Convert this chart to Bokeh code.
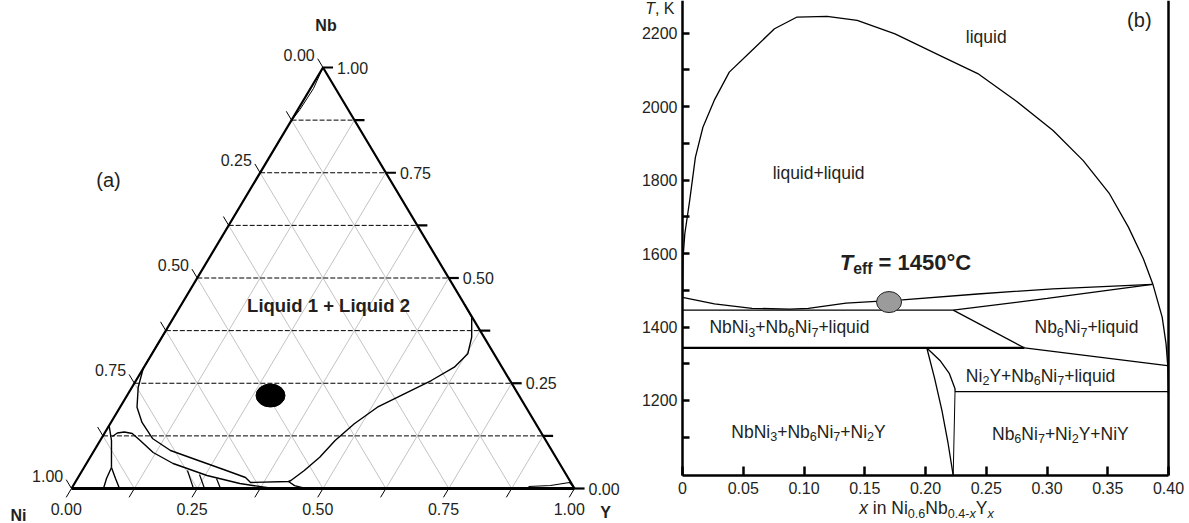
from bokeh.plotting import figure
from bokeh.layouts import row
from bokeh.models import Range1d, Label, LinearAxis, FixedTicker, PrintfTickFormatter
from bokeh.embed import file_html
from bokeh.resources import INLINE

FONT = "Liberation Sans"
INK = "#231f20"

# ---------------- Panel (a): ternary Ni-Nb-Y, points as (Y, Nb) mole fractions ----------------
grid_vals = [0.125, 0.25, 0.375, 0.5, 0.625, 0.75, 0.875]
tick_vals = [0.0, 0.125, 0.25, 0.375, 0.5, 0.625, 0.75, 0.875, 1.0]
label_vals = [0.0, 0.25, 0.5, 0.75, 1.0]
label_text = ["0.00", "0.25", "0.50", "0.75", "1.00"]

# liquid miscibility gap (left branch -> tie segment -> right branch)
gap_Y = [0.0, 0.0, 0.0123, 0.0337, 0.0618, 0.1016, 0.1517, 0.2121, 0.2797, 0.3329, 0.3488,
         0.4231, 0.4267, 0.4414, 0.4563, 0.4671, 0.4854, 0.5116, 0.5492, 0.5871, 0.617,
         0.6279, 0.6159, 0.5922, 0.5613]
gap_Nb = [0.38, 0.285, 0.2406, 0.1931, 0.1568, 0.1188, 0.0903, 0.0689, 0.0451, 0.0261, 0.0143,
          0.0166, 0.019, 0.0428, 0.0743, 0.114, 0.1537, 0.1931, 0.2249, 0.2565, 0.2881,
          0.32, 0.3594, 0.4069, 0.4387]
tail_Y = [0.4231, 0.44, 0.465]
tail_Nb = [0.0166, 0.007, 0.0]
bump_Y = [0.0194, 0.0252, 0.0379, 0.0555, 0.0796, 0.1196, 0.1723, 0.2539, 0.3287, 0.3934, 0.40]
bump_Nb = [0.1235, 0.1318, 0.1342, 0.1306, 0.114, 0.0855, 0.0594, 0.0309, 0.0119, 0.0012, 0.0]
stem_Y = [0.0, 0.0225, 0.0545]
stem_Nb = [0.1496, 0.114, 0.0499]
forkL_Y = [0.0545, 0.0577, 0.0636]
forkL_Nb = [0.0499, 0.0238, 0.0]
forkR_Y = [0.0545, 0.0756, 0.0954]
forkR_Nb = [0.0499, 0.0238, 0.0]
short_Y = [[0.2092, 0.2425], [0.2378, 0.2644], [0.2764, 0.2962]]
short_Nb = [[0.0428, 0.0], [0.0333, 0.0], [0.0238, 0.0]]
ycorner_Y = [0.9061, 0.9487, 0.9829, 1.0]
ycorner_Nb = [0.0048, 0.0071, 0.0143, 0.0]
apex_Y = [0.0, 0.006, 0.004, 0.0]
apex_Nb = [1.0, 0.95, 0.90, 0.87]
dot_Y = [0.2852]
dot_Nb = [0.2209]

# ---------------- Panel (b): isopleth Ni0.6Nb0.4-xYx ----------------
dome_x = [0.0, 0.0005, 0.0019, 0.0059, 0.0106, 0.0168, 0.0261, 0.0385, 0.0571, 0.0757, 0.0943,
          0.119, 0.1438, 0.1749, 0.212, 0.243, 0.274, 0.305, 0.3298, 0.3514, 0.367, 0.3793,
          0.387, 0.3948, 0.398, 0.3994, 0.4]
dome_T = [1481, 1590, 1654, 1744, 1862, 1944, 2017, 2094, 2153, 2212, 2244,
          2246, 2235, 2198, 2139, 2090, 2017, 1935, 1853, 1763, 1672, 1586,
          1518, 1427, 1354, 1295, 1218]
liq_x = [0.0, 0.0263, 0.0572, 0.0882, 0.1036, 0.1346, 0.1593, 0.181, 0.2429, 0.3048, 0.3868]
liq_T = [1481, 1463, 1451, 1449, 1451, 1465, 1470, 1474, 1490, 1504, 1516]
liq2_x = [0.2228, 0.3002, 0.3868]
liq2_T = [1446, 1478, 1516]
pl1_x = [0.0, 0.2228]
pl1_T = [1446, 1446]
sl1_x = [0.2228, 0.2815]
sl1_T = [1446, 1343]
pl2_x = [0.0, 0.2815]
pl2_T = [1343, 1343]
sl2_x = [0.2815, 0.3991]
sl2_T = [1343, 1295]
pl3_x = [0.2243, 0.4]
pl3_T = [1224, 1224]
e1_x = [0.2011, 0.2119, 0.2197, 0.2243, 0.2243]
e1_T = [1343, 1309, 1273, 1232, 1224]
e2_x = [0.2011, 0.2075, 0.2135, 0.2185, 0.2228]
e2_T = [1343, 1260, 1173, 1085, 996]
e3_x = [0.2243, 0.2228]
e3_T = [1224, 996]
teff_x = [0.17]
teff_T = [1468]
x_ticks = [0, 0.05, 0.1, 0.15, 0.2, 0.25, 0.3, 0.35, 0.4]
T_ticks = [1100, 1200, 1300, 1400, 1500, 1600, 1700, 1800, 1900, 2000, 2100, 2200]
T_labels = {1100: "", 1300: "", 1500: "", 1700: "", 1900: "", 2100: ""}
T_MIN, T_MAX = 995.8, 2289.0
X_MIN, X_MAX = 0.0, 0.4

W_REG = {' ': 278, '+': 584, '-': 333, '.': 278, ',': 278, '=': 584, 'C': 722, 'K': 667,
         'L': 556, 'N': 722, 'T': 611, 'Y': 667, 'a': 556, 'b': 556, 'd': 556, 'e': 556,
         'f': 278, 'i': 222, 'l': 222, 'n': 556, 'q': 556, 'u': 556, 'x': 500, 'y': 500,
         '(': 333, ')': 333, '\u00b0': 400}
W_BOLD = {' ': 278, '+': 584, '.': 278, '=': 584, 'C': 722, 'L': 611, 'T': 611, 'e': 556,
          'f': 333, 'i': 278, 'd': 611, 'q': 611, 'u': 611, '\u00b0': 400}


def tw(s, size, bold=False):
    tab = W_BOLD if bold else W_REG
    return sum(tab.get(c, 556) for c in s) * size / 1000.0


def rich(p, x, y, segs, size, align="center", bold=False, dx=0.0, dy=0.0):
    """Text with sub-scripts, built from plain Labels; dy = offset (px, up) of the text middle."""
    pieces = []
    for txt, kind in segs:
        sub = kind in ("sub", "isub")
        ital = kind in ("i", "isub")
        fs = size * 0.72 if sub else size
        core = txt.strip(" ")
        lead = tw(" " * (len(txt) - len(txt.lstrip(" "))), fs, bold)
        trail = tw(" " * (len(txt) - len(txt.rstrip(" "))), fs, bold)
        pieces.append((core, fs, sub, ital, lead, tw(core, fs, bold), trail))
    total = sum(pc[4] + pc[5] + pc[6] for pc in pieces)
    cur = {"center": -total / 2.0, "left": 0.0, "right": -total}[align]
    for core, fs, sub, ital, lead, w, trail in pieces:
        cur += lead
        style = ("bold " if bold else "") + ("italic" if ital else "")
        style = style.strip() or "normal"
        if core:
            p.add_layout(Label(x=x, y=y, x_offset=dx + cur,
                               y_offset=dy - (0.29 * size if sub else 0.0),
                               text=core, text_font=FONT, text_font_size="%.1fpx" % fs,
                               text_font_style=style, text_color=INK,
                               text_align="left", text_baseline="middle"))
        cur += w + trail


def tx(Y, Nb):
    return [a + b / 2.0 for a, b in zip(Y, Nb)]


# ===================== figure (a) =====================
SIDE_PX, HEIGHT_PX, LEFT_PX, BASE_PX = 503.0, 421.0, 71.0, 488.0
pa = figure(width=620, height=523, output_backend="svg", toolbar_location=None,
            x_axis_location=None, y_axis_location=None, title=None,
            x_range=Range1d(-LEFT_PX / SIDE_PX, (620 - LEFT_PX) / SIDE_PX),
            y_range=Range1d(-(523 - BASE_PX) / HEIGHT_PX, BASE_PX / HEIGHT_PX),
            min_border=0)
pa.outline_line_color = None
pa.xgrid.visible = False
pa.ygrid.visible = False

for c in grid_vals:
    ys, nbs = [0.0, 1 - c], [1 - c, 0.0]
    pa.line(tx(ys, nbs), nbs, line_color="#9a9a9a", line_width=0.6)
    ys, nbs = [c, c], [0.0, 1 - c]
    pa.line(tx(ys, nbs), nbs, line_color="#9a9a9a", line_width=0.6)
for c in grid_vals:
    ys, nbs = [0.0, 1 - c], [c, c]
    pa.line(tx(ys, nbs), nbs, line_color="black", line_width=1, line_dash="5 2")

pa.line(tx([0.0, 0.0, 1.0], [0.0, 1.0, 0.0]), [0.0, 1.0, 0.0], line_color="black", line_width=2.2)
pa.line(tx([0.0, 1.0], [0.0, 0.0]), [0.0, 0.0], line_color="black", line_width=3)

L = 0.021
for c in tick_vals:
    x0 = tx([1 - c], [c])[0]
    pa.line([x0, x0 + 0.02], [c, c], line_color="black", line_width=2.2)
    ys, nbs = [0.0, -L], [1 - c, 1 - c + L]
    pa.line(tx(ys, nbs), nbs, line_color="black", line_width=1)
    ys, nbs = [c, c], [0.0, -L]
    pa.line(tx(ys, nbs), nbs, line_color="black", line_width=1)

for v, t in zip(label_vals, label_text):
    pa.add_layout(Label(x=tx([-L], [1 - v + L])[0], y=1 - v + L, x_offset=-3, y_offset=4, text=t,
                        text_font=FONT, text_font_size="16px", text_color=INK,
                        text_align="right", text_baseline="middle"))
    pa.add_layout(Label(x=tx([1 - v], [v])[0], y=v, x_offset=14, y_offset=0, text=t,
                        text_font=FONT, text_font_size="16px", text_color=INK,
                        text_align="left", text_baseline="middle"))
    pa.add_layout(Label(x=tx([v], [-L])[0], y=-L, x_offset=0, y_offset=-12, text=t,
                        text_font=FONT, text_font_size="16px", text_color=INK,
                        text_align="center", text_baseline="middle"))

for Ys, Nbs, w in [(gap_Y, gap_Nb, 1.4), (tail_Y, tail_Nb, 1.4), (bump_Y, bump_Nb, 1.4),
                   (stem_Y, stem_Nb, 1.4), (forkL_Y, forkL_Nb, 1.4), (forkR_Y, forkR_Nb, 1.4),
                   (ycorner_Y, ycorner_Nb, 1.2), (apex_Y, apex_Nb, 1.0)]:
    pa.line(tx(Ys, Nbs), Nbs, line_color="black", line_width=w)
for Ys, Nbs in zip(short_Y, short_Nb):
    pa.line(tx(Ys, Nbs), Nbs, line_color="black", line_width=1.2)

pa.ellipse(x=tx(dot_Y, dot_Nb), y=dot_Nb, width=29, height=23, width_units="screen",
           height_units="screen", fill_color="black", line_color="black")

pa.add_layout(Label(x=0.5, y=1.0, y_offset=42, x_offset=3, text="Nb", text_font=FONT,
                    text_font_size="16px", text_font_style="bold", text_color=INK,
                    text_align="center", text_baseline="middle"))
pa.add_layout(Label(x=0.0, y=0.0, x_offset=-53, y_offset=-27, text="Ni", text_font=FONT,
                    text_font_size="16px", text_font_style="bold", text_color=INK,
                    text_align="center", text_baseline="middle"))
pa.add_layout(Label(x=1.0, y=0.0, x_offset=31, y_offset=-24, text="Y", text_font=FONT,
                    text_font_size="16px", text_font_style="bold", text_color=INK,
                    text_align="center", text_baseline="middle"))
pa.add_layout(Label(x=0.0736, y=0.7316, text="(a)", text_font=FONT, text_font_size="20px",
                    text_color=INK, text_align="center", text_baseline="middle"))
pa.add_layout(Label(x=0.511, y=0.4347, text="Liquid 1 + Liquid 2", text_font=FONT,
                    text_font_size="18.5px", text_font_style="bold", text_color=INK,
                    text_align="center", text_baseline="middle"))

# ===================== figure (b) =====================
FRAME_LEFT_PX, PX_PER_X, AXIS_BOTTOM_PX, PX_PER_K = 62.0, 1215.0, 475.0, 0.3673
pb = figure(width=569, height=523, output_backend="svg", toolbar_location=None, title=None,
            x_axis_location=None, y_axis_location=None,
            x_range=Range1d(X_MIN - FRAME_LEFT_PX / PX_PER_X, X_MIN + (569 - FRAME_LEFT_PX) / PX_PER_X),
            y_range=Range1d(T_MIN - (523 - AXIS_BOTTOM_PX) / PX_PER_K, T_MAX),
            min_border=0)
pb.outline_line_color = None
pb.xgrid.visible = False
pb.ygrid.visible = False

xax = LinearAxis(fixed_location=T_MIN, bounds=(X_MIN, X_MAX), ticker=FixedTicker(ticks=x_ticks),
                 formatter=PrintfTickFormatter(format="%.2f"))
xax.major_label_overrides = {0: "0"}
xax.major_tick_in = 9
xax.major_label_standoff = 7
yax = LinearAxis(fixed_location=X_MIN, bounds=(T_MIN, T_MAX), ticker=FixedTicker(ticks=T_ticks))
yax.major_label_overrides = T_labels
yax.major_tick_in = 7
yax.major_label_standoff = 5
for ax in (xax, yax):
    ax.axis_line_width = 2.5
    ax.axis_line_color = "black"
    ax.major_tick_line_width = 2.5
    ax.major_tick_line_color = "black"
    ax.minor_tick_line_color = None
    ax.major_tick_out = 0
    ax.major_label_text_font = FONT
    ax.major_label_text_font_size = "16px"
    ax.major_label_text_color = INK
rax = LinearAxis(fixed_location=X_MAX, bounds=(T_MIN, T_MAX), ticker=FixedTicker(ticks=[]),
                 minor_tick_line_color=None, axis_line_width=2.5, axis_line_color="black")
pb.add_layout(xax, "below")
pb.add_layout(yax, "left")
pb.add_layout(rax, "right")

for xs, Ts, w in [(dome_x, dome_T, 1.3), (liq_x, liq_T, 1.3), (liq2_x, liq2_T, 1.3),
                  (pl1_x, pl1_T, 1.3), (sl1_x, sl1_T, 1.3), (pl2_x, pl2_T, 2.2),
                  (sl2_x, sl2_T, 1.3), (pl3_x, pl3_T, 1.3), (e1_x, e1_T, 1.3),
                  (e2_x, e2_T, 1.3), (e3_x, e3_T, 1.0)]:
    pb.line(xs, Ts, line_color="black", line_width=w)

pb.ellipse(x=teff_x, y=teff_T, width=25, height=21, width_units="screen", height_units="screen",
           fill_color="#9b9b9b", line_color="#222222", line_width=1)

RS = 17.5
rich(pb, 0.25, 2190, [("liquid", "n")], RS)
rich(pb, 0.112, 1820, [("liquid+liquid", "n")], RS)
rich(pb, 0.088, 1400, [("NbNi", "n"), ("3", "sub"), ("+Nb", "n"), ("6", "sub"), ("Ni", "n"),
                       ("7", "sub"), ("+liquid", "n")], RS)
rich(pb, 0.3325, 1400, [("Nb", "n"), ("6", "sub"), ("Ni", "n"), ("7", "sub"), ("+liquid", "n")], RS)
rich(pb, 0.2947, 1268, [("Ni", "n"), ("2", "sub"), ("Y+Nb", "n"), ("6", "sub"), ("Ni", "n"),
                        ("7", "sub"), ("+liquid", "n")], RS)
rich(pb, 0.1037, 1115, [("NbNi", "n"), ("3", "sub"), ("+Nb", "n"), ("6", "sub"), ("Ni", "n"),
                        ("7", "sub"), ("+Ni", "n"), ("2", "sub"), ("Y", "n")], RS)
rich(pb, 0.311, 1110, [("Nb", "n"), ("6", "sub"), ("Ni", "n"), ("7", "sub"), ("+Ni", "n"),
                       ("2", "sub"), ("Y+NiY", "n")], RS)
rich(pb, 0.1835, 1576, [("T", "i"), ("eff", "sub"), (" = 1450\u00b0C", "n")], 22, bold=True)
rich(pb, 0.376, 2235, [("(b)", "n")], 20)
rich(pb, 0.2008, T_MIN, [("x", "i"), (" in Ni", "n"), ("0.6", "sub"), ("Nb", "n"), ("0.4-", "sub"),
                          ("x", "isub"), ("Y", "n"), ("x", "isub")], 17.5, dy=-33)
rich(pb, X_MIN, T_MAX, [("T", "i"), (", K", "n")], 16, align="right", dx=-8, dy=-8)

layout = row(pa, pb)
open("out.html", "w").write(file_html(layout, INLINE))
